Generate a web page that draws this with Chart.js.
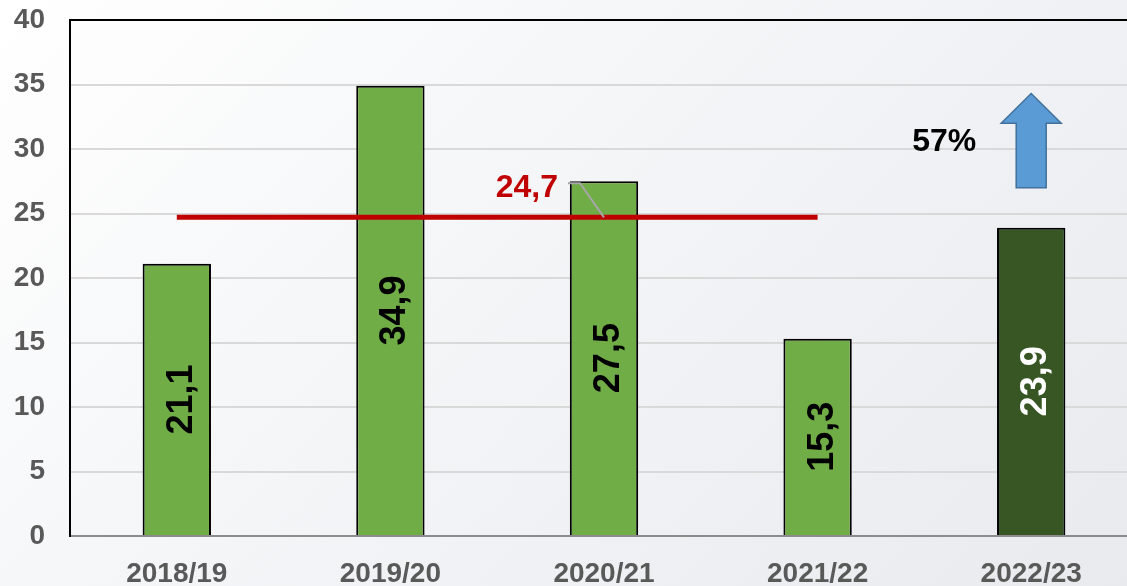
<!DOCTYPE html>
<html lang="en">
<head>
    <meta charset="UTF-8">
    <title>Chart</title>
    <style>
        body {
            margin: 0;
            padding: 0;
            overflow: hidden;
            background: linear-gradient(135deg, #ffffff 0%, #f4f5f7 45%, #e8eaee 100%);
            width: 1127px;
            height: 586px;
        }
        .chart-container {
            position: relative;
            width: 1140px;
            height: 586px;
        }
    </style>
    <script src="https://cdn.jsdelivr.net/npm/chart.js"></script>
</head>
<body>
    <div class="chart-container">
        <canvas id="mainChart"></canvas>
    </div>
    <script>
        // data
        var seasons = ['2018/19', '2019/20', '2020/21', '2021/22', '2022/23'];
        var values = [21.1, 34.9, 27.5, 15.3, 23.9];
        var averageValue = 24.7;
        var averageSpan = [0, 1, 2, 3];   // categories the average line covers
        var growthLabel = '57%';
        var barColors = ['#70AD47', '#70AD47', '#70AD47', '#70AD47', '#375623'];
        var labelColors = ['#000000', '#000000', '#000000', '#000000', '#ffffff'];

        var avgData = seasons.map(function (s, i) {
            return averageSpan.indexOf(i) >= 0 ? averageValue : null;
        });

        function fmt(v) {
            return v.toFixed(1).replace('.', ',');
        }

        var FONT = "'Liberation Sans', Arial, sans-serif";

        var decorations = {
            id: 'decorations',
            afterDatasetsDraw: function (chart) {
                var ctx = chart.ctx;
                var xs = chart.scales.x, ys = chart.scales.y;
                var area = chart.chartArea;

                // top frame line
                ctx.save();
                ctx.strokeStyle = '#000';
                ctx.lineWidth = 2;
                ctx.beginPath();
                ctx.moveTo(area.left - 1, area.top);
                ctx.lineTo(area.right, area.top);
                ctx.stroke();

                // bar value labels, rotated
                var meta = chart.getDatasetMeta(0);
                meta.data.forEach(function (bar, i) {
                    var cy = (bar.y + bar.base) / 2;
                    ctx.save();
                    ctx.translate(bar.x + 2, cy);
                    ctx.rotate(-Math.PI / 2);
                    ctx.font = 'bold 36px ' + FONT;
                    ctx.fillStyle = labelColors[i];
                    ctx.textAlign = 'center';
                    ctx.textBaseline = 'alphabetic';
                    ctx.fillText(fmt(values[i]), 0, 13);
                    ctx.restore();
                });

                // average label with leader line
                var lx = xs.getPixelForValue(2);
                var ly = ys.getPixelForValue(averageValue);
                var sy = ys.getPixelForValue(27.35);
                ctx.strokeStyle = '#a6a6a6';
                ctx.lineWidth = 2;
                ctx.beginPath();
                ctx.moveTo(lx - 36, sy);
                ctx.lineTo(lx - 24, sy);
                ctx.lineTo(lx, ly);
                ctx.stroke();
                ctx.font = 'bold 32px ' + FONT;
                ctx.fillStyle = '#C00000';
                ctx.textAlign = 'right';
                ctx.textBaseline = 'alphabetic';
                ctx.fillText(fmt(averageValue), lx - 46, sy + 14);

                // growth arrow over the last bar
                var ax = xs.getPixelForValue(4);
                var tip = ys.getPixelForValue(34.3);
                var neck = ys.getPixelForValue(32.0);
                var tail = ys.getPixelForValue(27.0);
                ctx.beginPath();
                ctx.moveTo(ax, tip);
                ctx.lineTo(ax + 30, neck);
                ctx.lineTo(ax + 15, neck);
                ctx.lineTo(ax + 15, tail);
                ctx.lineTo(ax - 15, tail);
                ctx.lineTo(ax - 15, neck);
                ctx.lineTo(ax - 30, neck);
                ctx.closePath();
                ctx.fillStyle = '#5B9BD5';
                ctx.fill();
                ctx.strokeStyle = '#41719C';
                ctx.lineWidth = 1.5;
                ctx.stroke();

                ctx.font = 'bold 32px ' + FONT;
                ctx.fillStyle = '#000';
                ctx.textAlign = 'center';
                ctx.fillText(growthLabel, ax - 87, ys.getPixelForValue(30.7) + 11);
                ctx.restore();
            }
        };

        var ctx1 = document.getElementById('mainChart').getContext('2d');
        var mainChart = new Chart(ctx1, {
            type: 'bar',
            data: {
                labels: seasons,
                datasets: [
                    {
                        type: 'bar',
                        data: values,
                        backgroundColor: barColors,
                        borderColor: '#000',
                        borderWidth: 2,
                        barPercentage: 0.32,
                        categoryPercentage: 1,
                        order: 2
                    },
                    {
                        type: 'line',
                        data: avgData,
                        borderColor: '#C00000',
                        borderWidth: 5,
                        pointRadius: 0,
                        fill: false,
                        order: 1
                    }
                ]
            },
            options: {
                responsive: true,
                maintainAspectRatio: false,
                animation: false,
                layout: {
                    autoPadding: false,
                    padding: { top: 20, right: 2, left: 0, bottom: 0 }
                },
                plugins: {
                    legend: { display: false },
                    tooltip: { enabled: false }
                },
                scales: {
                    x: {
                        grid: { display: false },
                        border: { color: '#8c8c8c', width: 2 },
                        ticks: {
                            color: '#595959',
                            font: { family: FONT, size: 28, weight: 'bold' },
                            padding: 13
                        },
                        afterFit: function (scale) { scale.height = 50; }
                    },
                    y: {
                        min: 0,
                        max: 40,
                        ticks: {
                            stepSize: 5,
                            color: '#595959',
                            font: { family: FONT, size: 28, weight: 'bold' },
                            padding: 25
                        },
                        grid: {
                            color: '#d9d9d9',
                            lineWidth: 2,
                            drawTicks: false
                        },
                        border: { color: '#000', width: 2 },
                        afterFit: function (scale) {
                            scale.width = 70;
                            scale.paddingTop = 0;
                            scale.paddingBottom = 0;
                        }
                    }
                }
            },
            plugins: [decorations]
        });
    </script>
</body>
</html>
